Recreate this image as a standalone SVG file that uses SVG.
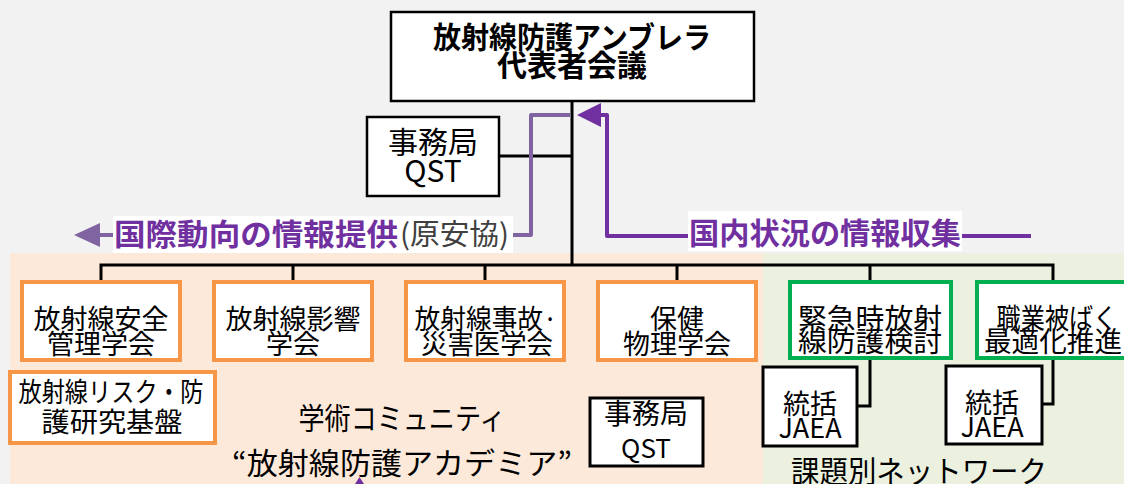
<svg xmlns="http://www.w3.org/2000/svg" width="1124" height="484" viewBox="0 0 1124 484">
<defs>
<style>
text{font-family:"Noto Sans CJK JP","Noto Sans",sans-serif;fill:#000;text-anchor:middle}
.b{font-weight:bold}
.box{fill:#fff;stroke:#000;stroke-width:3}
.top{fill:#fff;stroke:#000;stroke-width:2.5}
.or{fill:#fff;stroke:#f79646;stroke-width:4}
.gr{fill:#fff;stroke:#00b050;stroke-width:4}
.ln{fill:none;stroke:#000;stroke-width:3}
.t26{font-size:27px}
.t28{font-size:30px}
.pl{fill:none;stroke:#8064a2;stroke-width:4;stroke-linejoin:round}
.pd{fill:none;stroke:#7030a0;stroke-width:4;stroke-linejoin:round}
.lbl{font-size:30px;font-weight:bold;fill:#7030a0}
</style>
</defs>
<rect x="0" y="0" width="1124" height="484" fill="#f2f2f2"/>
<rect x="10" y="253" width="753" height="231" fill="#fde9d9"/>
<rect x="763" y="253" width="361" height="231" fill="#ebf1de"/>

<g id="connectors">
<path class="ln" d="M572 101V265M101 280V265H1053V280M293 265V280M485 265V280M677 265V280M870 265V280M499 156H572"/>
<path class="ln" d="M870 360V406H858M1053 360V404H1043"/>
<path class="pl" d="M570 115H531V235H513"/>
<path class="pl" d="M113 235H97"/>
<polygon points="74,235 100,223 100,247" fill="#8064a2"/>
<path class="pd" d="M1031 236H962M688 236H607V115H598"/>
<polygon points="577,115 601,103 601,127" fill="#7030a0"/>
<polygon points="355,484 359.5,477 364,484" fill="#7030a0"/>
</g>

<g id="umbrella">
<rect class="top" x="391" y="12" width="363" height="89"/>
<text class="b" x="572" y="48" font-size="30" textLength="278" lengthAdjust="spacingAndGlyphs">放射線防護アンブレラ</text>
<text class="b" x="572" y="76" font-size="30">代表者会議</text>
</g>

<g id="secretariat-top">
<rect class="top" x="367" y="117" width="132" height="79"/>
<text x="433" y="153" font-size="30">事務局</text>
<text x="433" y="182" font-size="30">QST</text>
</g>

<g id="label-intl">
<rect x="113" y="216" width="400" height="37" fill="#fff"/>
<text class="lbl" x="114" y="245" style="text-anchor:start" textLength="284" lengthAdjust="spacingAndGlyphs">国際動向の情報提供</text>
<text x="400" y="245" font-size="29" style="text-anchor:start;fill:#404040" textLength="109" lengthAdjust="spacingAndGlyphs">(原安協)</text>
</g>

<g id="label-domestic">
<rect x="688" y="211" width="274" height="40" fill="#fff"/>
<text class="lbl" x="825" y="244" textLength="272" lengthAdjust="spacingAndGlyphs">国内状況の情報収集</text>
</g>

<g id="society-1">
<rect class="or" x="22" y="282" width="158" height="78"/>
<text class="t26" x="101" y="329" textLength="135" lengthAdjust="spacingAndGlyphs">放射線安全</text>
<text class="t26" x="101" y="354">管理学会</text>
</g>
<g id="society-2">
<rect class="or" x="214" y="282" width="158" height="78"/>
<text class="t26" x="293" y="329" textLength="135" lengthAdjust="spacingAndGlyphs">放射線影響</text>
<text class="t26" x="293" y="354">学会</text>
</g>
<g id="society-3">
<rect class="or" x="406" y="282" width="158" height="78"/>
<text class="t26" x="486" y="329" textLength="143" lengthAdjust="spacingAndGlyphs">放射線事故·</text>
<text class="t26" x="487" y="354" textLength="132" lengthAdjust="spacingAndGlyphs">災害医学会</text>
</g>
<g id="society-4">
<rect class="or" x="598" y="282" width="158" height="78"/>
<text class="t26" x="677" y="329">保健</text>
<text class="t26" x="677" y="354">物理学会</text>
</g>
<g id="research-base">
<rect class="or" x="10" y="372" width="205" height="71"/>
<text class="t26" x="111" y="402" textLength="185" lengthAdjust="spacingAndGlyphs">放射線リスク・防</text>
<text class="t26" x="112" y="432" textLength="141" lengthAdjust="spacingAndGlyphs">護研究基盤</text>
</g>

<g id="academy">
<text class="t28" x="402" y="429" textLength="207" lengthAdjust="spacingAndGlyphs">学術コミュニティ</text>
<text class="t28" x="402" y="474" textLength="340" lengthAdjust="spacingAndGlyphs">“放射線防護アカデミア”</text>
</g>

<g id="secretariat-academy">
<rect class="box" x="590" y="398" width="113" height="68"/>
<text x="646" y="424" font-size="28">事務局</text>
<text x="646" y="458" font-size="26">QST</text>
</g>

<g id="network-1">
<rect class="gr" x="790" y="282" width="161" height="76"/>
<text x="870" y="329" font-size="28" textLength="144" lengthAdjust="spacingAndGlyphs">緊急時放射</text>
<text x="870" y="352" font-size="28" textLength="144" lengthAdjust="spacingAndGlyphs">線防護検討</text>
</g>
<g id="network-2">
<rect class="gr" x="977" y="282" width="154" height="76"/>
<text x="1057" y="329" font-size="28" textLength="121" lengthAdjust="spacingAndGlyphs">職業被ばく</text>
<text x="1053" y="352" font-size="28" textLength="138" lengthAdjust="spacingAndGlyphs">最適化推進</text>
</g>
<g id="jaea-1">
<rect class="box" x="763" y="367" width="94" height="79"/>
<text class="t26" x="810" y="414">統括</text>
<text class="t26" x="810" y="438">JAEA</text>
</g>
<g id="jaea-2">
<rect class="box" x="946" y="366" width="96" height="78"/>
<text class="t26" x="992" y="413">統括</text>
<text class="t26" x="992" y="437">JAEA</text>
</g>
<g id="network-label">
<text class="t28" x="919" y="482" textLength="256" lengthAdjust="spacingAndGlyphs">課題別ネットワーク</text>
</g>
</svg>
